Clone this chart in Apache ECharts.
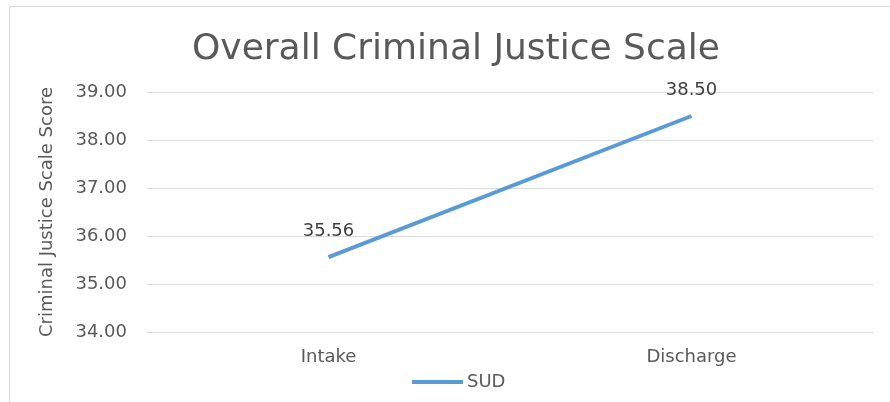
<!DOCTYPE html>
<html>
<head>
<meta charset="utf-8">
<script src="https://cdn.jsdelivr.net/npm/echarts@6/dist/echarts.min.js"></script>
<style>
  html, body { margin: 0; padding: 0; background: #fff; }
  #chart { width: 890px; height: 402px; }
</style>
</head>
<body>
<div id="chart"></div>
<script>
// data
const categories = ['Intake', 'Discharge'];
const sudValues = [35.56, 38.50];
const yTicks = { min: 34, max: 39, interval: 1 };

const chart = echarts.init(document.getElementById('chart'));
const font = '"DejaVu Sans", "Noto Sans", sans-serif';

chart.setOption({
    animation: false,
    textStyle: { fontFamily: font },
    graphic: [{
        type: 'rect',
        shape: { x: 9.5, y: 6.5, width: 900, height: 420 },
        style: { fill: 'none', stroke: '#d9d9d9', lineWidth: 1 },
        silent: true
    }],
    title: {
        text: 'Overall Criminal Justice Scale',
        left: 187,
        top: 27,
        textStyle: { fontFamily: font, fontSize: 36, fontWeight: 'normal', color: '#595959' }
    },
    legend: {
        bottom: 6,
        left: 407,
        itemWidth: 51,
        itemHeight: 4,
        itemGap: 4,
        icon: 'rect',
        textStyle: { fontFamily: font, fontSize: 18, color: '#595959', padding: [0, 0, 0, -1] },
        data: ['SUD']
    },
    grid: { left: 147, right: 17, top: 92, bottom: 70 },
    xAxis: {
        type: 'category',
        data: categories,
        boundaryGap: true,
        axisLine: { lineStyle: { color: '#d9d9d9' } },
        axisTick: { show: false },
        axisLabel: { fontFamily: font, fontSize: 18, color: '#595959', margin: 16 }
    },
    yAxis: {
        type: 'value',
        min: yTicks.min,
        max: yTicks.max,
        interval: yTicks.interval,
        name: 'Criminal Justice Scale Score',
        nameLocation: 'middle',
        nameGap: 91,
        nameTextStyle: { fontFamily: font, fontSize: 18, color: '#595959' },
        axisLine: { show: false },
        axisTick: { show: false },
        axisLabel: {
            fontFamily: font, fontSize: 18, color: '#595959', margin: 20,
            formatter: v => v.toFixed(2)
        },
        splitLine: { lineStyle: { color: '#d9d9d9' } }
    },
    series: [{
        name: 'SUD',
        type: 'line',
        data: sudValues,
        showSymbol: true,
        symbol: 'circle',
        symbolSize: 0,
        lineStyle: { color: '#5b9bd5', width: 4 },
        itemStyle: { color: '#5b9bd5' },
        label: {
            show: true,
            position: 'top',
            distance: 17,
            fontFamily: font,
            fontSize: 18,
            color: '#404040',
            formatter: p => p.value.toFixed(2)
        }
    }]
});
</script>
</body>
</html>
